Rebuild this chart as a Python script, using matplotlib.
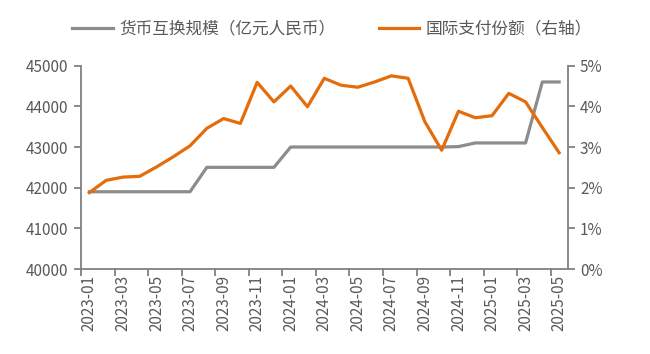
import matplotlib
matplotlib.use("Agg")
import matplotlib.pyplot as plt
from matplotlib.ticker import FuncFormatter, MultipleLocator, FixedLocator

plt.rcParams['font.family'] = ['Noto Sans CJK SC', 'DejaVu Sans']

months = ['2023-01', '2023-02', '2023-03', '2023-04', '2023-05', '2023-06', '2023-07',
          '2023-08', '2023-09', '2023-10', '2023-11', '2023-12', '2024-01', '2024-02',
          '2024-03', '2024-04', '2024-05', '2024-06', '2024-07', '2024-08', '2024-09',
          '2024-10', '2024-11', '2024-12', '2025-01', '2025-02', '2025-03', '2025-04',
          '2025-05']
swap_scale = [41900, 41900, 41900, 41900, 41900, 41900, 41900,
              42500, 42500, 42500, 42500, 42500, 43000, 43000,
              43000, 43000, 43000, 43000, 43000, 43000, 43000,
              43000, 43010, 43100, 43100, 43100, 43100, 44600,
              44600]
pay_share = [1.88, 2.18, 2.26, 2.28, 2.51, 2.76, 3.03,
             3.46, 3.70, 3.58, 4.59, 4.11, 4.50, 3.99,
             4.69, 4.52, 4.47, 4.60, 4.75, 4.69, 3.62,
             2.92, 3.88, 3.72, 3.77, 4.32, 4.11, 3.48,
             2.86]
label_swap = '货币互换规模（亿元人民币）'
label_share = '国际支付份额（右轴）'

gray = '#8c8c8c'
orange = '#e46c0a'
axis_c = '#808080'
text_c = '#595959'

fig = plt.figure(figsize=(6.5, 3.54), dpi=100)
ax = fig.add_axes([81/650, 1-269/354, (567.5-81)/650, (269-65.7)/354])
ax2 = ax.twinx()

x = list(range(len(months)))
l1, = ax.plot(x, swap_scale, color=gray, lw=2.3, label=label_swap)
l2, = ax2.plot(x, pay_share, color=orange, lw=2.3, label=label_share)
ax2.set_zorder(ax.get_zorder() + 1)
ax2.patch.set_visible(False)

ax.set_xlim(-0.5, len(months) - 0.5)
ax.set_ylim(40000, 45000)
ax2.set_ylim(0, 5)
ax.yaxis.set_major_locator(MultipleLocator(1000))
ax2.yaxis.set_major_locator(MultipleLocator(1))
ax2.yaxis.set_major_formatter(FuncFormatter(lambda v, p: f'{int(round(v))}%'))

# ticks between categories, labels at every other category
ax.xaxis.set_major_locator(FixedLocator([i - 0.5 for i in range(0, len(months), 2)]))
ax.xaxis.set_major_formatter(FuncFormatter(lambda v, p: ''))
ax.set_xticks(list(range(0, len(months), 2)), minor=True)
ax.set_xticklabels(months[::2], minor=True, rotation=90)
ax.tick_params(axis='x', which='minor', length=0, pad=4, labelsize=11, labelcolor=text_c)
ax.tick_params(axis='x', which='major', length=5, width=1.3, color=axis_c)

for a in (ax, ax2):
    for s in a.spines.values():
        s.set_visible(False)
ax.spines['left'].set_visible(True)
ax.spines['bottom'].set_visible(True)
ax2.spines['right'].set_visible(True)
for s in (ax.spines['left'], ax.spines['bottom'], ax2.spines['right']):
    s.set_color(axis_c)
    s.set_linewidth(1.3)

ax.tick_params(axis='y', length=5, width=1.3, color=axis_c, labelsize=11, labelcolor=text_c, pad=4)
ax2.tick_params(axis='y', length=5, width=1.3, color=axis_c, labelsize=11, labelcolor=text_c, pad=4)

fig.legend(handles=[l1, l2], loc='center', bbox_to_anchor=(332/650, 1-29/354), ncol=2,
           frameon=False, fontsize=12, labelcolor=text_c, handlelength=2.45,
           handletextpad=0.35, columnspacing=2.6)

fig.savefig('out.png', dpi=100)
